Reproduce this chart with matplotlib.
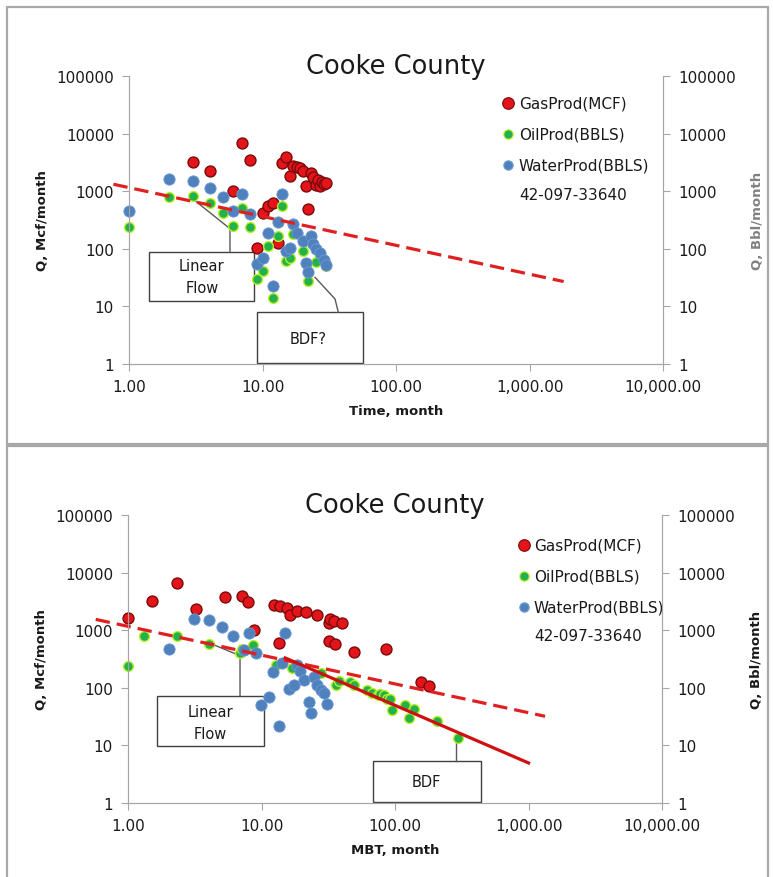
"""Cooke County rate-time and rate-MBT log-log plots (two stacked panels)."""
import matplotlib
matplotlib.use("Agg")
import matplotlib.pyplot as plt
from matplotlib.patches import Rectangle

plt.rcParams["font.family"] = ["DejaVu Sans"]

# ── data: rate vs time ──────────────────────────────────────
time_gas_t = [3, 4, 6, 7, 8, 9, 10, 11, 12, 13, 14, 15, 16, 17, 18, 19, 20,
              21, 22, 23, 24, 25, 26, 27, 28, 29, 30]
time_gas_q = [3200, 2200, 1000, 6800, 3500, 105, 410, 560, 620, 125, 3100,
              4000, 1800, 2700, 2600, 2500, 2200, 1250, 490, 2100, 1750, 1300,
              1550, 1250, 1450, 1350, 1400]

time_oil_t = [1, 2, 3, 4, 5, 6, 7, 8, 9, 10, 11, 12, 13, 14, 15, 16, 17,
              20, 22, 25, 30]
time_oil_q = [240, 800, 820, 620, 420, 250, 520, 235, 30, 41, 113, 14, 170,
              560, 62, 70, 180, 90, 28, 60, 50]

time_water_t = [1, 2, 3, 4, 5, 6, 7, 8, 9, 10, 11, 12, 13, 14, 15, 16, 17,
                18, 20, 21, 22, 23, 24, 25, 27, 29, 30]
time_water_q = [460, 1600, 1500, 1150, 780, 460, 900, 400, 54, 70, 190, 23,
                290, 900, 92, 105, 270, 190, 138, 56, 39, 165, 120, 98, 86,
                65, 53]

# half-slope trend line (end points)
time_trend_t = [0.76, 1800]
time_trend_q = [1320, 27]

# ── data: rate vs material balance time ─────────────────────
mbt_gas_x = [1.0, 1.5, 2.3, 3.2, 5.3, 7.1, 7.9, 8.7, 12.3, 13.4, 13.8, 15.5,
             16.3, 18.4, 21.3, 26.1, 31.8, 32.3, 34.7, 40, 32, 35.3, 49, 85,
             155, 178]
mbt_gas_q = [1650, 3200, 6700, 2300, 3700, 4000, 3100, 1000, 2700, 590, 2600,
             2400, 1850, 2150, 2050, 1800, 1330, 1580, 1450, 1330, 650, 580,
             415, 480, 128, 108]

mbt_oil_x = [1.0, 1.32, 2.3, 4.0, 6.9, 7.1, 8.6, 12.7, 17, 27.6, 36, 38, 46,
             49, 62, 67, 74, 77, 82, 87, 92, 95, 119, 126, 138, 205, 294]
mbt_oil_q = [240, 800, 780, 580, 400, 470, 550, 250, 220, 178, 112, 130, 125,
             114, 92, 80, 74, 78, 76, 65, 64, 41, 50, 30, 43, 27, 13.3]

mbt_water_x = [2.03, 3.1, 4.0, 5.0, 6.1, 7.3, 8.0, 9.0, 9.9, 11.3, 12.2, 13.4,
               14.2, 15, 16, 17.4, 18.4, 19.5, 20.9, 22.5, 23.2, 24.6, 26,
               27.6, 29.5, 30.9]
mbt_water_q = [480, 1550, 1500, 1150, 800, 450, 900, 400, 51, 68, 190, 22,
               265, 890, 97, 112, 250, 195, 136, 56, 36, 155, 112, 91, 80, 53]

mbt_trend_x = [0.57, 1330]
mbt_trend_q = [1540, 32]
bdf_trend_x = [15, 1000]
bdf_trend_q = [330, 4.95]

x_ticks = [1, 10, 100, 1000, 10000]
y_ticks = [1, 10, 100, 1000, 10000, 100000]
series_names = ["GasProd(MCF)", "OilProd(BBLS)", "WaterProd(BBLS)"]
well_id = "42-097-33640"

# ── colours ─────────────────────────────────────────────────
C_GAS, C_GAS_E = "#E3151B", "#7A0A0A"
C_OIL, C_OIL_E = "#22B14C", "#B8F028"
C_WAT, C_WAT_E = "#4F81BD", "#6E9AD2"
C_AX = "#A6A6A6"
C_TXT = "#1A1A1A"
C_LEAD = "#595959"

fig = plt.figure(figsize=(7.73, 8.78), dpi=100)

# panel frames
for (y0, y1) in [(0.4932, 0.9905), (-0.01, 0.4909)]:
    fig.add_artist(Rectangle((0.0087, y0), 0.985, y1 - y0, transform=fig.transFigure,
                             fill=False, edgecolor="#A8A8A8", lw=1.6))


def panel(rect, gas, oil, wat, xlabel, rlab_color, leg, boxes):
    ax = fig.add_axes(rect)
    ax.set_xscale("log"); ax.set_yscale("log")
    ax.set_xlim(1, 10000); ax.set_ylim(1, 100000)

    ax.scatter(*gas, s=62, c=C_GAS, edgecolors=C_GAS_E, linewidths=1.0,
               zorder=3, clip_on=False)
    ax.scatter(*oil, s=50, c=C_OIL, edgecolors=C_OIL_E, linewidths=1.0,
               zorder=4, clip_on=False)
    ax.scatter(*wat, s=66, c=C_WAT, edgecolors=C_WAT_E, linewidths=0.6,
               zorder=5, clip_on=False)

    ax.set_xticks(x_ticks)
    ax.set_xticklabels([f"{v:,.2f}" for v in x_ticks])
    ax.set_yticks(y_ticks)
    ax.set_yticklabels([str(v) for v in y_ticks])
    ax.minorticks_off()
    for s in ["left", "bottom", "right"]:
        ax.spines[s].set_color(C_AX)
    ax.spines["top"].set_visible(False)
    ax.tick_params(direction="out", length=5, color=C_AX, labelsize=11,
                   labelcolor=C_TXT, pad=6)

    ax2 = ax.twinx()
    ax2.set_yscale("log"); ax2.set_ylim(1, 100000)
    ax2.set_yticks(y_ticks)
    ax2.set_yticklabels([str(v) for v in y_ticks])
    ax2.minorticks_off()
    for s in ["left", "bottom", "right"]:
        ax2.spines[s].set_color(C_AX)
    ax2.spines["top"].set_visible(False)
    ax2.tick_params(direction="out", length=5, color=C_AX, labelsize=11,
                    labelcolor=C_TXT, pad=6)

    ax.set_ylabel("Q, Mcf/month", fontsize=9.5, fontweight="bold", color=C_TXT)
    ax.yaxis.set_label_coords(-0.150, 0.5)
    ax2.set_ylabel("Q, Bbl/month", fontsize=9.5, fontweight="bold", color=rlab_color)
    ax2.yaxis.set_label_coords(1.165, 0.5)
    ax.set_xlabel(xlabel, fontsize=9.5, fontweight="bold", color=C_TXT)
    ax.xaxis.set_label_coords(0.5, -0.14)
    ax.text(0.5, 1.036, "Cooke County", transform=ax.transAxes, ha="center",
            va="center", fontsize=18.5, color=C_TXT)

    # legend (manual, Excel-like)
    mx, tx, rows, idy = leg
    for y, c, e, s, name in zip(rows, [C_GAS, C_OIL, C_WAT],
                                [C_GAS_E, C_OIL_E, C_WAT_E], [70, 45, 45],
                                series_names):
        ax.scatter([mx], [y], s=s, c=c, edgecolors=e, linewidths=0.8,
                   transform=ax.transAxes, clip_on=False, zorder=6)
        ax.text(tx, y, name, transform=ax.transAxes, va="center", ha="left",
                fontsize=11, color=C_TXT)
    ax.text(tx, idy, well_id, transform=ax.transAxes, va="center", ha="left",
            fontsize=11, color=C_TXT)

    # call-out boxes with leader lines
    for (x0, y0, x1, y1, label, tpos, lead) in boxes:
        ax.add_patch(Rectangle((x0, y0), x1 - x0, y1 - y0, transform=ax.transAxes,
                               facecolor="white", edgecolor="#404040", lw=1.0,
                               zorder=2, clip_on=False))
        ax.text(*tpos, label, transform=ax.transAxes, ha="center", va="center",
                fontsize=10.5, color=C_TXT, linespacing=1.55, zorder=2.1)
        ax.plot([p[0] for p in lead], [p[1] for p in lead], color=C_LEAD, lw=1.0,
                transform=ax.transAxes, zorder=2.2, clip_on=False)
    return ax


# ── top panel: time ─────────────────────────────────────────
ax_t = panel([0.1673, 0.5843, 0.6904, 0.328],
             (time_gas_t, time_gas_q), (time_oil_t, time_oil_q),
             (time_water_t, time_water_q), "Time, month", "#808080",
             (0.710, 0.730, [0.905, 0.799, 0.691], 0.590),
             [(0.0375, 0.2177, 0.2342, 0.3899, "Linear\nFlow", (0.1358, 0.303),
               [(0.1886, 0.3899), (0.1886, 0.4698), (0.1231, 0.5670)]),
              (0.2387, 0.0035, 0.4374, 0.1795, "BDF?", (0.3354, 0.089),
               [(0.3916, 0.1795), (0.3854, 0.2257), (0.3480, 0.3010)])])
ax_t.plot(time_trend_t, time_trend_q, color="#E02020", lw=2.3,
          dashes=(4.5, 2.2), zorder=6, clip_on=False)

# ── bottom panel: material balance time ─────────────────────
ax_m = panel([0.166, 0.0843, 0.6904, 0.328],
             (mbt_gas_x, mbt_gas_q), (mbt_oil_x, mbt_oil_q),
             (mbt_water_x, mbt_water_q), "MBT, month", C_TXT,
             (0.741, 0.760, [0.896, 0.788, 0.682], 0.583),
             [(0.0543, 0.197, 0.2548, 0.3726, "Linear\nFlow", (0.153, 0.280),
               [(0.2093, 0.3726), (0.2093, 0.5115), (0.1563, 0.5521)]),
              (0.459, 0.0024, 0.660, 0.147, "BDF", (0.559, 0.074),
               [(0.6134, 0.147), (0.6134, 0.2222)])])
ax_m.plot(mbt_trend_x, mbt_trend_q, color="#E02020", lw=2.3,
          dashes=(4.5, 2.2), zorder=6, clip_on=False)
ax_m.plot(bdf_trend_x, bdf_trend_q, color="#D01010", lw=2.3, zorder=6)

fig.savefig("out.png", dpi=100)
